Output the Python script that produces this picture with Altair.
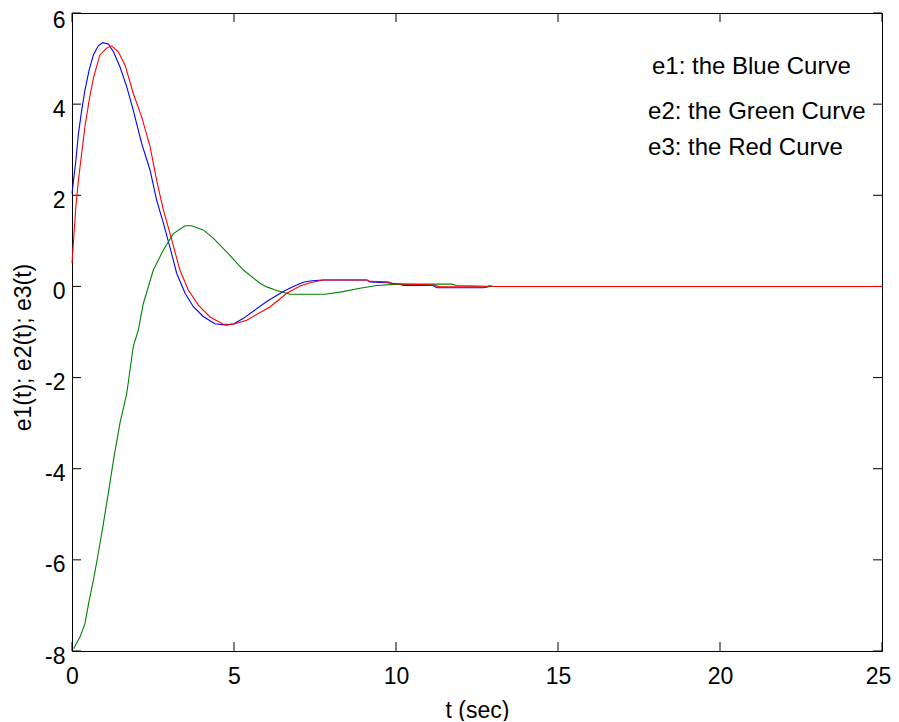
import altair as alt
import pandas as pd

# ---- data ----
t_e1 = [0.0, 0.12, 0.2, 0.3, 0.4, 0.53, 0.66, 0.81, 0.95, 1.12, 1.28, 1.48, 1.69, 1.89, 2.15,
        2.41, 2.61, 2.82, 3.02, 3.23, 3.49, 3.74, 4.05, 4.41, 4.77, 5.0, 5.29, 6.01, 6.52, 6.83,
        7.14, 7.35, 7.71, 9.1, 9.2, 9.71, 10.12, 10.23, 11.15, 11.26, 12.7, 12.9, 25.0]
v_e1 = [2.04, 2.77, 3.36, 3.87, 4.31, 4.75, 5.08, 5.28, 5.35, 5.32, 5.15, 4.82, 4.38, 3.87, 3.14,
        2.55, 1.90, 1.39, 0.87, 0.29, -0.15, -0.44, -0.66, -0.82, -0.85, -0.82, -0.70, -0.33, -0.11, 0.0,
        0.09, 0.12, 0.14, 0.14, 0.10, 0.08, 0.05, 0.02, 0.02, -0.03, -0.03, 0.0, 0.0]

t_e2 = [0.05, 0.25, 0.40, 0.53, 0.66, 0.81, 0.97, 1.12, 1.28, 1.48, 1.69, 1.89, 2.05, 2.2, 2.51,
        2.82, 3.13, 3.49, 3.69, 4.05, 4.36, 4.77, 5.29, 5.80, 6.01, 6.32, 6.73, 7.81, 8.32, 8.89,
        9.40, 10.12, 11.72, 11.87, 13.1, 25.0]
v_e2 = [-7.95, -7.69, -7.40, -6.89, -6.45, -5.86, -5.20, -4.54, -3.81, -3.00, -2.35, -1.32, -0.95, -0.38, 0.36,
        0.80, 1.16, 1.33, 1.33, 1.24, 1.06, 0.76, 0.36, 0.07, -0.01, -0.09, -0.17, -0.17, -0.12, -0.04,
        0.02, 0.05, 0.05, 0.02, 0.0, 0.0]

t_e3 = [0.0, 0.12, 0.2, 0.3, 0.4, 0.53, 0.66, 0.86, 1.07, 1.22, 1.43, 1.64, 1.89, 2.15, 2.41,
        2.61, 2.82, 3.08, 3.33, 3.59, 3.90, 4.26, 4.67, 4.98, 5.39, 6.11, 6.63, 7.04, 7.35, 7.76,
        9.1, 9.2, 9.76, 9.9, 11.15, 11.36, 12.8, 12.9, 13.0, 25.0]
v_e3 = [0.51, 1.76, 2.34, 2.93, 3.51, 4.09, 4.57, 5.08, 5.23, 5.28, 5.15, 4.85, 4.24, 3.72, 3.07,
        2.34, 1.68, 1.02, 0.36, -0.08, -0.41, -0.67, -0.83, -0.83, -0.74, -0.45, -0.15, 0.01, 0.08, 0.14,
        0.14, 0.11, 0.10, 0.06, 0.03, -0.01, -0.01, 0.02, 0.0, 0.0]

x_ticks = [0, 5, 10, 15, 20, 25]
y_ticks = [-8, -6, -4, -2, 0, 2, 4, 6]

note_text = ["e1: the Blue Curve", "e2: the Green Curve", "e3: the Red Curve"]
note_t = [17.9, 17.78, 17.78]
note_v = [4.82, 3.83, 3.04]

# ---- chart ----
W, H = 810, 638
FONT = "Liberation Sans"
FS = 23
NFS = 24
TK = 9
LBL = "datum.value < 0 ? '-' + abs(datum.value) : '' + datum.value"

xs = alt.Scale(domain=[0, 25], nice=False, zero=False)
ys = alt.Scale(domain=[-8, 6], nice=False, zero=False)

xaxis = alt.Axis(values=x_ticks, ticks=False, domain=False, grid=False, labelFont=FONT,
                 labelFontSize=FS, labelColor="black", labelPadding=14, title="t (sec)",
                 titleFont=FONT, titleFontSize=FS, titleFontWeight="normal", titleColor="black",
                 titlePadding=11, labelFlush=False, labelExpr=LBL,
                 labelOffset={"condition": {"test": "datum.value == 25", "value": -4}, "value": 0})
yaxis = alt.Axis(values=y_ticks, ticks=False, domain=False, grid=False, labelFont=FONT,
                 labelFontSize=FS, labelColor="black", labelPadding=7,
                 labelOffset={"condition": {"test": "datum.value == 6", "value": 7}, "value": 5},
                 title="e1(t); e2(t); e3(t)",
                 titleFont=FONT, titleFontSize=FS, titleFontWeight="normal", titleColor="black",
                 titlePadding=9, labelFlush=False, titleY=334, labelExpr=LBL)


def curve(t, v, color):
    df = pd.DataFrame({"t": t, "v": v})
    return alt.Chart(df).mark_line(color=color, strokeWidth=1.1, interpolate="linear").encode(
        x=alt.X("t:Q", scale=xs, axis=xaxis),
        y=alt.Y("v:Q", scale=ys, axis=yaxis),
    )


blue = curve(t_e1, v_e1, "#0000ff")
green = curve(t_e2, v_e2, "#008000")
red = curve(t_e3, v_e3, "#ff0000")

xt = pd.DataFrame({"t": x_ticks})
yt = pd.DataFrame({"v": y_ticks})
tick_col = "#000000"
bottom = alt.Chart(xt).mark_rule(color=tick_col, strokeWidth=1).encode(
    x=alt.X("t:Q", scale=xs), y=alt.value(H), y2=alt.value(H - TK))
top = alt.Chart(xt).mark_rule(color=tick_col, strokeWidth=1).encode(
    x=alt.X("t:Q", scale=xs), y=alt.value(0), y2=alt.value(TK))
left = alt.Chart(yt).mark_rule(color=tick_col, strokeWidth=1).encode(
    y=alt.Y("v:Q", scale=ys), x=alt.value(0), x2=alt.value(TK))
right = alt.Chart(yt).mark_rule(color=tick_col, strokeWidth=1).encode(
    y=alt.Y("v:Q", scale=ys), x=alt.value(W), x2=alt.value(W - TK))

notes = alt.Chart(pd.DataFrame({"t": note_t, "v": note_v, "s": note_text})).mark_text(
    font=FONT, fontSize=NFS, align="left", baseline="middle", color="black").encode(
    x=alt.X("t:Q", scale=xs), y=alt.Y("v:Q", scale=ys), text="s:N")

chart = alt.layer(bottom, top, left, right, blue, green, red, notes).properties(
    width=W, height=H,
    autosize=alt.AutoSizeParams(type="none"),
    padding={"left": 64, "top": 5, "right": 9, "bottom": 70},
    background="white",
).configure_view(stroke="black", strokeWidth=1)

chart.save("out.html", embed_options={"renderer": "svg", "actions": False})
